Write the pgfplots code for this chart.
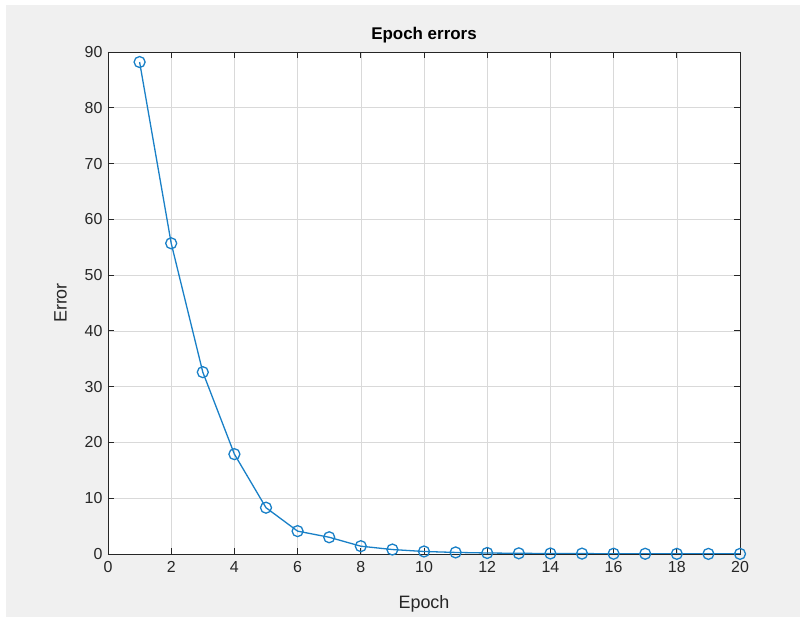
\documentclass[border=0pt]{standalone}
\usepackage{pgfplots}
\pgfplotsset{compat=1.18}
\usepackage{fontspec}
\setmainfont{Liberation Sans}
\definecolor{mblue}{rgb}{0.1,0.5,0.78}
\definecolor{figgray}{HTML}{F0F0F0}
\definecolor{axgray}{HTML}{262626}
\begin{document}
\begin{tikzpicture}[x=1bp,y=1bp]
\fill[white] (-108,-63) rectangle (692,554);
\fill[figgray] (-102,-63) rectangle (692,549);
\begin{axis}[
  at={(0,0)}, anchor=south west,
  scale only axis, width=632bp, height=502bp,
  xmin=0, xmax=20, ymin=0, ymax=90,
  xtick={0,2,...,20}, ytick={0,10,...,90},
  tick align=inside,
  major tick length=6bp,
  axis background/.style={fill=white},
  axis line style={axgray, line width=0.8bp},
  tick style={axgray, line width=0.8bp},
  grid=major,
  major grid style={gray!30, line width=0.6bp},
  ticklabel style={font=\fontsize{16}{18}\selectfont, text=axgray},
  xticklabel style={yshift=-4bp},
  yticklabel style={xshift=-2bp},
  /pgf/number format/assume math mode=true,
  xlabel={Epoch}, ylabel={Error},
  label style={font=\fontsize{18}{21}\selectfont, text=axgray},
  xlabel style={yshift=-16bp},
  ylabel style={yshift=11bp},
  title={Epoch errors},
  title style={font=\bfseries\fontsize{17}{20}\selectfont, yshift=-1bp},
]
\addplot[mblue, line width=1.3bp, mark=o, mark size=5.5bp, mark options={line width=1.3bp}] coordinates {
(1,88.2) (2,55.7) (3,32.6) (4,17.9) (5,8.3) (6,4.1) (7,3.0) (8,1.4) (9,0.8) (10,0.45)
(11,0.28) (12,0.18) (13,0.12) (14,0.09) (15,0.07) (16,0.05) (17,0.04) (18,0.03) (19,0.02) (20,0.02)
};
\end{axis}
\end{tikzpicture}
\end{document}
